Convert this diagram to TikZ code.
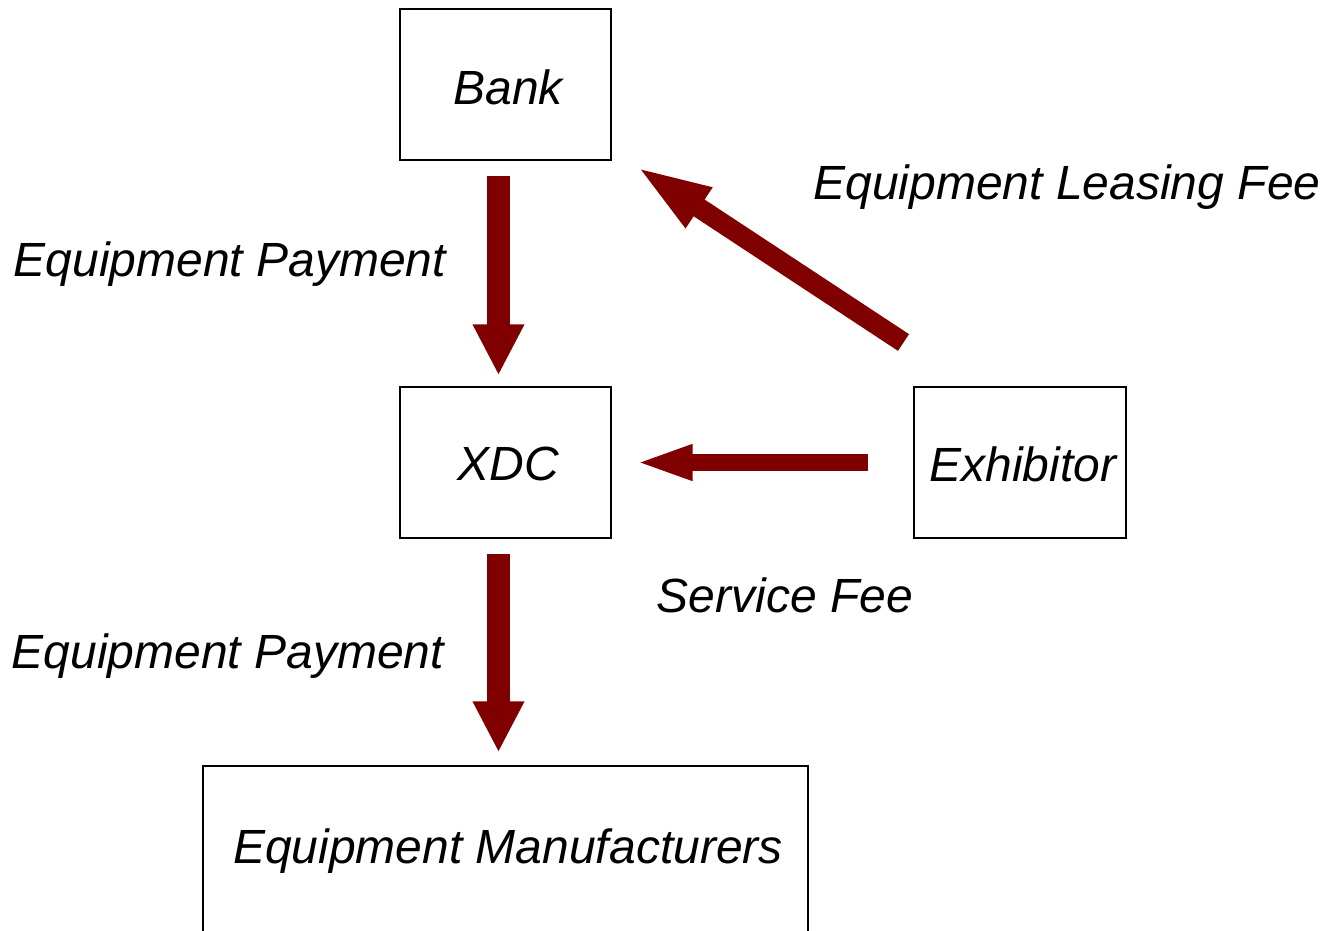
\documentclass[tikz,border=0pt]{standalone}
\usepackage{fontspec}
\setmainfont{Liberation Sans}
\usetikzlibrary{arrows.meta}
\definecolor{arrowred}{HTML}{800000}
\begin{document}
\begin{tikzpicture}[x=1pt,y=-1pt,
  box/.style={draw=black,line width=1.3pt,inner sep=0pt},
  lbl/.style={font=\fontsize{48}{56}\selectfont\itshape,inner sep=0pt},
  vflow/.style={draw=arrowred,line width=23pt,-{Triangle[length=51pt,width=48pt]}},
  hflow/.style={draw=arrowred,line width=17pt,-{Triangle[length=58pt,width=32pt]}},
  dflow/.style={draw=arrowred,line width=20pt,-{Triangle[length=78pt,width=42pt]}}]
\clip (0,0) rectangle (1326,930);
\useasboundingbox (0,0) rectangle (1326,930);
\node[box,minimum width=211pt,minimum height=151pt] (bank) at (505.5,84.5) {};
\node[box,minimum width=211pt,minimum height=151pt] (xdc) at (505.5,462.5) {};
\node[box,minimum width=212pt,minimum height=151pt] (exh) at (1020,462.5) {};
\node[box,minimum width=605pt,minimum height=200pt] (man) at (505.5,866) {};
\node[lbl] at (508,87) {Bank};
\node[lbl] at (508,464) {XDC};
\node[lbl] at (1023,464) {Exhibitor};
\node[lbl] at (508,851) {Equipment Manufacturers};
\node[lbl] (l1) at (230,264) {Equipment Payment};
\node[lbl] (l2) at (228,656) {Equipment Payment};
\node[lbl] (l3) at (1067,187) {Equipment Leasing Fee};
\node[lbl] (l4) at (785,595) {Service Fee};
\draw[vflow,shorten <=15pt,shorten >=11pt] (bank.south -| 498.5,0) -- (xdc.north -| 498.5,0);
\draw[vflow,shorten <=15pt,shorten >=13pt] (xdc.south -| 498.5,0) -- (man.north -| 498.5,0);
\draw[hflow,shorten <=45pt,shorten >=23pt] (exh.west |- 0,462.5) -- (xdc.east |- 0,462.5);
\coordinate (dstart) at (903.5,342.5);
\coordinate (dend) at (634,165);
\draw[dflow] (dstart) -- (dend);
\end{tikzpicture}
\end{document}
